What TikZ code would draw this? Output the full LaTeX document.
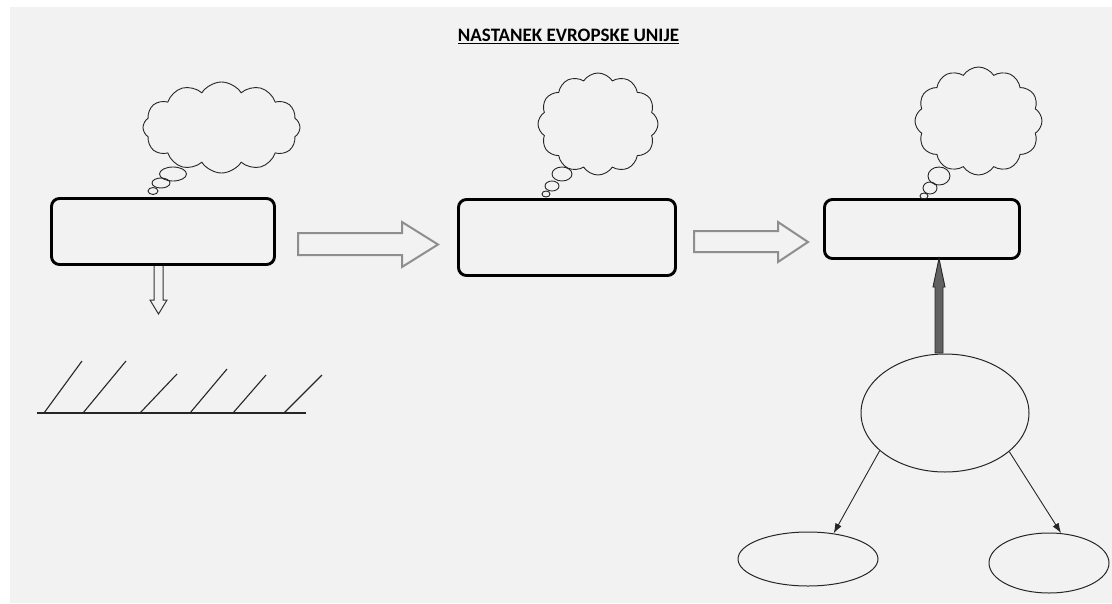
\documentclass[tikz,border=0pt]{standalone}
\usepackage{fontspec}
\setmainfont{Carlito}
\usetikzlibrary{shapes.geometric,shapes.symbols,arrows.meta}
\definecolor{bg}{HTML}{F2F2F2}
\definecolor{blockgray}{HTML}{8E8E8E}
\tikzset{
  box/.style={draw=black,line width=2.9pt,rounded corners=8pt,inner sep=0pt},
  thought/.style={cloud,draw=black!85,line width=0.9pt,cloud puffs=12,cloud puff arc=115,cloud ignores aspect,inner sep=0pt},
  bubble/.style={ellipse,draw=black!85,line width=0.9pt,inner sep=0pt},
  oval/.style={ellipse,draw=black!85,line width=1pt,inner sep=0pt},
  blockarrow/.style={draw=blockgray,line width=2pt,line join=miter},
  thinarrow/.style={draw=black!85,line width=0.9pt,-{Latex[length=10pt,width=7pt]}},
  hatch/.style={draw=black!85,line width=1.1pt}
}
\begin{document}
\begin{tikzpicture}[x=1pt,y=-1pt]
\useasboundingbox (0,0) rectangle (1112,603);
\fill[bg] (10,7) rectangle (1112,603);

% title
\node[font=\bfseries\fontsize{19}{21}\selectfont,inner sep=0pt] (title) at (568.5,36) {\underline{NASTANEK EVROPSKE UNIJE}};

% boxes
\node[box,minimum width=223pt,minimum height=66pt] (b1) at (163,231.5) {};
\node[box,minimum width=217pt,minimum height=76pt] (b2) at (567,237.5) {};
\node[box,minimum width=195pt,minimum height=59pt] (b3) at (922,229) {};

% clouds
\node[thought,minimum width=157pt,minimum height=91pt] (c1) at (221.5,127.5) {};
\node[thought,minimum width=120pt,minimum height=102pt] (c2) at (598,124) {};
\node[thought,minimum width=127pt,minimum height=108pt] (c3) at (978.5,121) {};

% thought bubbles
\node[bubble,minimum width=27pt,minimum height=14pt] (t1a) at (173,174) {};
\node[bubble,minimum width=18pt,minimum height=10pt] (t1b) at (161,183) {};
\node[bubble,minimum width=10pt,minimum height=7pt] (t1c) at (153,191) {};
\node[bubble,minimum width=20pt,minimum height=14pt] (t2a) at (562,174) {};
\node[bubble,minimum width=14pt,minimum height=10pt] (t2b) at (552,186) {};
\node[bubble,minimum width=8pt,minimum height=6pt] (t2c) at (546,194) {};
\node[bubble,minimum width=22pt,minimum height=18pt] (t3a) at (939,176) {};
\node[bubble,minimum width=14pt,minimum height=12pt] (t3b) at (930,188) {};
\node[bubble,minimum width=8pt,minimum height=6pt] (t3c) at (924,196) {};

% block arrows between boxes
\draw[blockarrow] (298,233) -- (402,233) -- (402,222) -- (438,244.5) -- (402,267) -- (402,255) -- (298,255) -- cycle;
\draw[blockarrow] (694,231) -- (778,231) -- (778,222) -- (808,242) -- (778,262) -- (778,252) -- (694,252) -- cycle;

% down arrow from box 1
\draw[draw=black!80,line width=1pt,line join=miter] (154,266) -- (154,300) -- (150,300) -- (158.5,314) -- (167,300) -- (163,300) -- (163,266);

% hatched line
\coordinate (h0) at (37,413);
\coordinate (h1) at (306,413);
\draw[hatch] (h0) -- (h1);
\draw[hatch] (44,413) -- (82,361);
\draw[hatch] (83,413) -- (126,361);
\draw[hatch] (140,413) -- (177,374);
\draw[hatch] (190,413) -- (227,369);
\draw[hatch] (233,413) -- (266,375);
\draw[hatch] (284,413) -- (322,375);

% ellipses
\node[oval,minimum width=168pt,minimum height=118pt] (e0) at (945,413) {};
\node[oval,minimum width=140pt,minimum height=54pt] (e1) at (808,559) {};
\node[oval,minimum width=120pt,minimum height=60pt] (e2) at (1049,563) {};

% up arrow from big ellipse to box 3
\draw[draw=black!85,fill=black!62,line width=0.9pt,line join=miter]
  (935,353) -- (935,287) -- (933,287) -- (939,258.5) -- (945,287) -- (943,287) -- (943,353) -- cycle;

% thin arrows
\draw[thinarrow] (e0.210) -- (e1.45);
\draw[thinarrow] (e0.329) -- (e2.68);
\end{tikzpicture}
\end{document}
